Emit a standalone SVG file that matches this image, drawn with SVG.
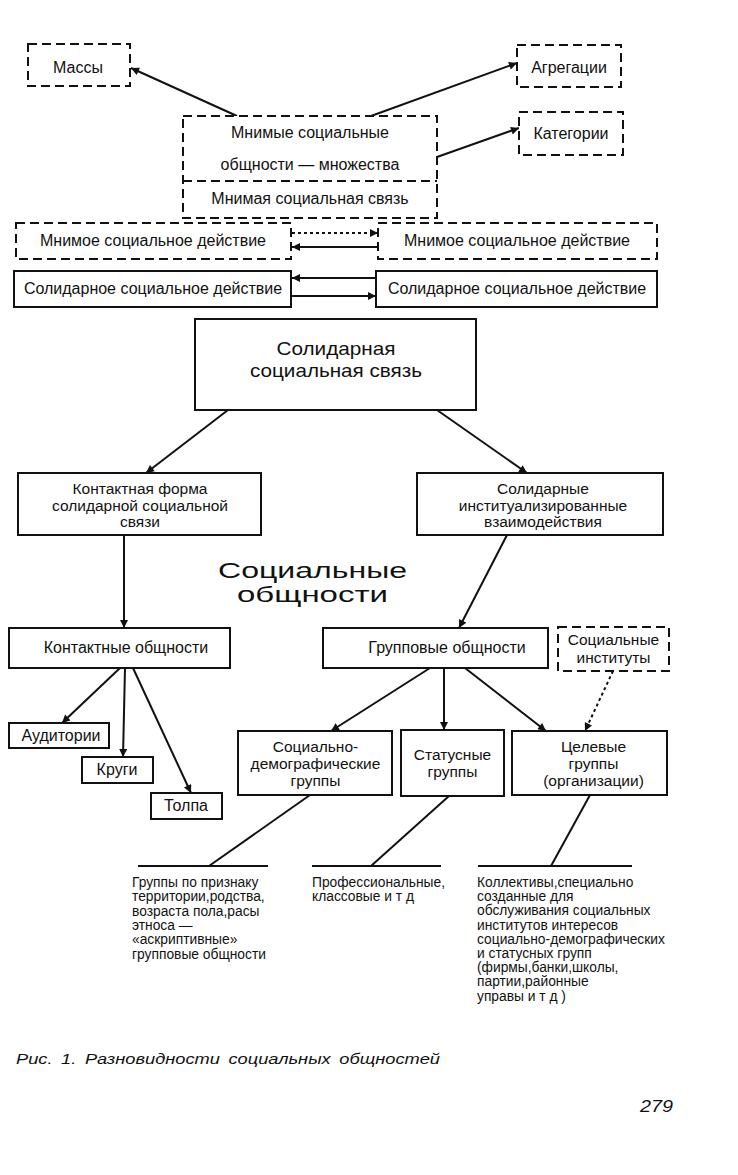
<svg xmlns="http://www.w3.org/2000/svg" width="738" height="1175" viewBox="0 0 738 1175">
<defs>
<style>
text{font-family:"Liberation Sans",Arial,sans-serif;fill:#111;}
.t{font-size:16px;text-anchor:middle;}
.s{font-size:15.5px;text-anchor:middle;}
.n{font-size:13.8px;}
.box{fill:#fff;stroke:#111;stroke-width:2;}
.dbox{fill:#fff;stroke:#111;stroke-width:2;stroke-dasharray:9 5;}
.c{fill:none;stroke:#111;stroke-width:2;}
.ca{fill:none;stroke:#111;stroke-width:2;marker-end:url(#ah);}
.cd{fill:none;stroke:#111;stroke-width:2;stroke-dasharray:3 3;marker-end:url(#ah);}
</style>
<marker id="ah" viewBox="0 0 10 10" refX="10" refY="5" markerWidth="5" markerHeight="4" orient="auto" markerUnits="strokeWidth">
<path d="M0,0 L10,5 L0,10 z" fill="#111"/>
</marker>
</defs>
<rect width="738" height="1175" fill="#fff"/>

<g id="connectors">
<line class="ca" x1="237" y1="116" x2="131" y2="68"/>
<line class="ca" x1="371" y1="116" x2="517" y2="63"/>
<line class="ca" x1="437" y1="157" x2="519" y2="128"/>
<line class="cd" x1="292" y1="233" x2="378" y2="233"/>
<line class="ca" x1="378" y1="247" x2="292" y2="247"/>
<line class="ca" x1="376" y1="278" x2="292" y2="278"/>
<line class="ca" x1="292" y1="296" x2="376" y2="296"/>
<line class="ca" x1="228" y1="410" x2="146" y2="473"/>
<line class="ca" x1="437" y1="410" x2="527" y2="473"/>
<line class="ca" x1="124" y1="535" x2="124" y2="628"/>
<line class="ca" x1="507" y1="535" x2="459" y2="628"/>
<line class="cd" x1="613" y1="671" x2="585" y2="731"/>
<line class="ca" x1="120" y1="668" x2="62" y2="723"/>
<line class="ca" x1="125" y1="668" x2="123" y2="757"/>
<line class="ca" x1="133" y1="668" x2="191" y2="793"/>
<line class="ca" x1="430" y1="668" x2="331" y2="731"/>
<line class="ca" x1="444" y1="668" x2="444" y2="730"/>
<line class="ca" x1="465" y1="668" x2="546" y2="731"/>
<line class="c" x1="310" y1="795" x2="209" y2="866"/>
<line class="c" x1="449" y1="796" x2="371" y2="866"/>
<line class="c" x1="590" y1="795" x2="551" y2="866"/>
<line class="c" x1="138" y1="866" x2="268" y2="866"/>
<line class="c" x1="312" y1="866" x2="441" y2="866"/>
<line class="c" x1="478" y1="866" x2="632" y2="866"/>
</g>

<g id="massy">
<rect class="dbox" x="28" y="44" width="102" height="42"/>
<text class="t" x="78" y="73">Массы</text>
</g>
<g id="agregacii">
<rect class="dbox" x="517" y="45" width="104" height="42"/>
<text class="t" x="569" y="73">Агрегации</text>
</g>
<g id="kategorii">
<rect class="dbox" x="519" y="112" width="104" height="43"/>
<text class="t" x="571" y="139">Категории</text>
</g>
<g id="mnimye-obshchnosti">
<rect class="dbox" x="183" y="116" width="254" height="102"/>
<line x1="183" y1="181" x2="437" y2="181" stroke="#111" stroke-width="2" stroke-dasharray="9 5"/>
<text class="t" x="310" y="138">Мнимые социальные</text>
<text class="t" x="310" y="170">общности — множества</text>
<text class="t" x="310" y="204">Мнимая социальная связь</text>
</g>
<g id="mnimoe-deystvie-1">
<rect class="dbox" x="16" y="223" width="275" height="36"/>
<text class="t" x="153" y="246">Мнимое социальное действие</text>
</g>
<g id="mnimoe-deystvie-2">
<rect class="dbox" x="378" y="223" width="279" height="36"/>
<text class="t" x="517" y="246">Мнимое социальное действие</text>
</g>
<g id="solidarnoe-deystvie-1">
<rect class="box" x="14" y="271" width="277" height="36"/>
<text class="t" x="153" y="294">Солидарное социальное действие</text>
</g>
<g id="solidarnoe-deystvie-2">
<rect class="box" x="376" y="271" width="281" height="36"/>
<text class="t" x="517" y="294">Солидарное социальное действие</text>
</g>
<g id="solidarnaya-svyaz">
<rect class="box" x="195" y="319" width="281" height="91"/>
<text x="336" y="355" textLength="119" lengthAdjust="spacingAndGlyphs" style="font-size:19px;text-anchor:middle">Солидарная</text>
<text x="336" y="377" textLength="172" lengthAdjust="spacingAndGlyphs" style="font-size:19px;text-anchor:middle">социальная связь</text>
</g>
<g id="kontaktnaya-forma">
<rect class="box" x="18" y="473" width="243" height="62"/>
<text class="s" x="140" y="494">Контактная форма</text>
<text class="s" x="140" y="510.5">солидарной социальной</text>
<text class="s" x="140" y="527">связи</text>
</g>
<g id="solidarnye-vzaimodeystviya">
<rect class="box" x="417" y="473" width="246" height="62"/>
<text class="s" x="543" y="494">Солидарные</text>
<text class="s" x="543" y="510.5">институализированные</text>
<text class="s" x="543" y="527">взаимодействия</text>
</g>
<g id="heading">
<text x="218" y="578" textLength="189" lengthAdjust="spacingAndGlyphs" style="font-size:22.5px">Социальные</text>
<text x="237" y="602" textLength="151" lengthAdjust="spacingAndGlyphs" style="font-size:22.5px">общности</text>
</g>
<g id="kontaktnye-obshchnosti">
<rect class="box" x="9" y="628" width="221" height="40"/>
<text class="t" x="126" y="653">Контактные общности</text>
</g>
<g id="gruppovye-obshchnosti">
<rect class="box" x="323" y="628" width="225" height="40"/>
<text class="t" x="447" y="653">Групповые общности</text>
</g>
<g id="socialnye-instituty">
<rect class="dbox" x="558" y="627" width="111" height="44"/>
<text class="s" x="613.5" y="645">Социальные</text>
<text class="s" x="613.5" y="662.5">институты</text>
</g>
<g id="auditorii">
<rect class="box" x="9" y="723" width="100" height="25"/>
<text class="t" x="61" y="741">Аудитории</text>
</g>
<g id="krugi">
<rect class="box" x="82" y="757" width="71" height="26"/>
<text class="t" x="117" y="775">Круги</text>
</g>
<g id="tolpa">
<rect class="box" x="151" y="793" width="71" height="26"/>
<text class="t" x="186" y="811">Толпа</text>
</g>
<g id="socdem-gruppy">
<rect class="box" x="238" y="731" width="154" height="64"/>
<text class="s" x="315.5" y="752">Социально-</text>
<text class="s" x="315.5" y="769">демографические</text>
<text class="s" x="315.5" y="785.5">группы</text>
</g>
<g id="statusnye-gruppy">
<rect class="box" x="401" y="730" width="103" height="66"/>
<text class="s" x="452.5" y="760">Статусные</text>
<text class="s" x="452.5" y="777">группы</text>
</g>
<g id="celevye-gruppy">
<rect class="box" x="512" y="731" width="155" height="64"/>
<text class="s" x="593.5" y="752">Целевые</text>
<text class="s" x="593.5" y="769">группы</text>
<text class="s" x="593.5" y="785.5">(организации)</text>
</g>

<g id="note-left">
<text class="n" x="132" y="887">Группы по признаку</text>
<text class="n" x="132" y="901.3">территории,родства,</text>
<text class="n" x="132" y="915.6">возраста пола,расы</text>
<text class="n" x="132" y="929.9">этноса —</text>
<text class="n" x="132" y="944.2">«аскриптивные»</text>
<text class="n" x="132" y="958.5">групповые общности</text>
</g>
<g id="note-middle">
<text class="n" x="312" y="887">Профессиональные,</text>
<text class="n" x="312" y="901.3">классовые и т д</text>
</g>
<g id="note-right">
<text class="n" x="477" y="887">Коллективы,специально</text>
<text class="n" x="477" y="901.2">созданные для</text>
<text class="n" x="477" y="915.4">обслуживания социальных</text>
<text class="n" x="477" y="929.6">институтов интересов</text>
<text class="n" x="477" y="943.8">социально-демографических</text>
<text class="n" x="477" y="958">и статусных групп</text>
<text class="n" x="477" y="972.2">(фирмы,банки,школы,</text>
<text class="n" x="477" y="986.4">партии,районные</text>
<text class="n" x="477" y="1000.6">управы и т д )</text>
</g>

<g id="caption">
<text x="16" y="1064" textLength="424" lengthAdjust="spacingAndGlyphs" style="font-size:15.5px;font-style:italic;word-spacing:3px">Рис. 1. Разновидности социальных общностей</text>
<text x="640" y="1112" textLength="33" lengthAdjust="spacingAndGlyphs" style="font-size:16px;font-style:italic">279</text>
</g>
</svg>
